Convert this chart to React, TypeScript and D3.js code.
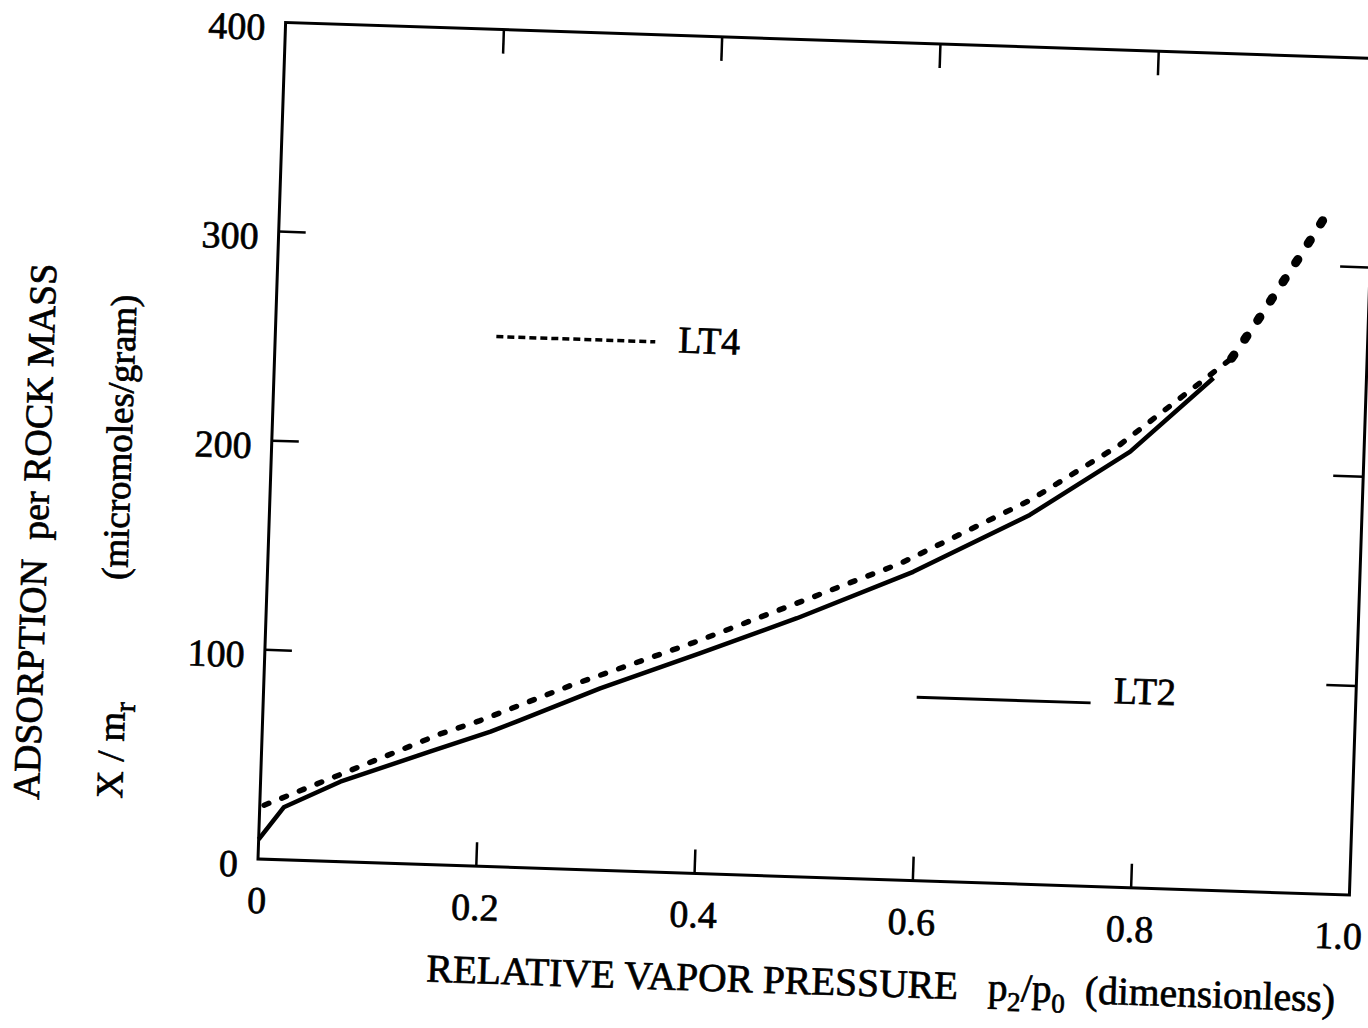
import React from 'react';
import * as d3 from 'd3';

const xTicks = [0, 0.2, 0.4, 0.6, 0.8, 1.0];
const xTickLabels = ['0', '0.2', '0.4', '0.6', '0.8', '1.0'];
const yTicks = [0, 100, 200, 300, 400];
const yTickLabels = ['0', '100', '200', '300', '400'];
const innerXTicks = [0.2, 0.4, 0.6, 0.8];
const innerYTicks = [100, 200, 300];

// LT2 (solid)
const lt2X = [0, 0.022, 0.073, 0.154, 0.209, 0.233, 0.308, 0.398, 0.486, 0.591, 0.696, 0.786, 0.86];
const lt2Y = [9.4, 25.1, 38.2, 54.0, 64.5, 69.8, 86.9, 105.2, 123.5, 147.5, 176.5, 208.3, 244.8];

// LT4 (dashed)
const lt4X = [0.004, 0.0605, 0.163, 0.199, 0.28, 0.392, 0.476, 0.579, 0.696, 0.776, 0.876];
const lt4Y = [25.8, 38.8, 62.6, 69.6, 87.6, 110.2, 128.6, 151.3, 183.6, 211.3, 254.5];
// LT4 upper (dotted) part
const lt4HighX = [0.876, 0.898, 0.918, 0.938, 0.96];
const lt4HighY = [254.5, 272.4, 289.5, 306.5, 326];

const FONT = '"Liberation Serif", "Times New Roman", serif';

export default function App() {
  const W = 1092;
  const H = 837;
  const x = d3.scaleLinear().domain([0, 1]).range([0, W]);
  const y = d3.scaleLinear().domain([0, 400]).range([H, 0]);
  const line = d3
    .line<[number, number]>()
    .x((d) => x(d[0]))
    .y((d) => y(d[1]));

  const lt2 = line(lt2X.map((v, i) => [v, lt2Y[i]]) as [number, number][]) || '';
  const lt4 = line(lt4X.map((v, i) => [v, lt4Y[i]]) as [number, number][]) || '';
  const lt4h = line(lt4HighX.map((v, i) => [v, lt4HighY[i]]) as [number, number][]) || '';

  const tickLen = 24;
  const textStroke = { stroke: '#000', strokeWidth: 0.7 };

  return (
    <svg
      width={1368}
      height={1028}
      style={{ position: 'absolute', left: 0, top: 0, background: '#fff' }}
      fontFamily={FONT}
    >
      <rect width={1368} height={1028} fill="#fff" />
      <g transform="rotate(1.89, 258, 859)">
        <g transform="translate(258, 22)">
          {/* frame */}
          <path
            d={`M0,0 L${W},0 L${W},${H} L0,${H} Z`}
            fill="none"
            stroke="#000"
            strokeWidth={3}
          />
          {/* inner ticks */}
          {innerXTicks.map((t) => (
            <g key={'xt' + t}>
              <line x1={x(t)} x2={x(t)} y1={H} y2={H - tickLen} stroke="#000" strokeWidth={2.5} />
              <line x1={x(t)} x2={x(t)} y1={0} y2={tickLen} stroke="#000" strokeWidth={2.5} />
            </g>
          ))}
          {innerYTicks.map((t) => (
            <g key={'yt' + t}>
              <line x1={0} x2={tickLen + 3} y1={y(t)} y2={y(t)} stroke="#000" strokeWidth={2.5} />
              <line x1={W} x2={W - tickLen - 6} y1={y(t)} y2={y(t)} stroke="#000" strokeWidth={2.5} />
            </g>
          ))}
          {/* tick labels */}
          {xTicks.map((t, i) => (
            <text
              key={'xl' + t}
              x={x(t) - (t === 1 ? 10 : 0)}
              y={H + 54}
              textAnchor="middle"
              fontSize={38}
              {...textStroke}
            >
              {xTickLabels[i]}
            </text>
          ))}
          {yTicks.map((t, i) => (
            <text
              key={'yl' + t}
              x={-20}
              y={y(t) + 18}
              textAnchor="end"
              fontSize={38}
              {...textStroke}
            >
              {yTickLabels[i]}
            </text>
          ))}

          {/* curves */}
          <path d={lt2} fill="none" stroke="#000" strokeWidth={4.5} strokeLinejoin="round" />
          <path
            d={lt4}
            fill="none"
            stroke="#000"
            strokeWidth={5.5}
            strokeDasharray="5 14"
            strokeLinecap="round"
          />
          <path
            d={lt4h}
            fill="none"
            stroke="#000"
            strokeWidth={9}
            strokeDasharray="4 19"
            strokeLinecap="round"
          />

          {/* legend */}
          <line
            x1={221}
            x2={380}
            y1={307}
            y2={307}
            stroke="#000"
            strokeWidth={3.5}
            strokeDasharray="7 4"
          />
          <text x={403} y={317} fontSize={38} {...textStroke}>
            LT4
          </text>
          <line x1={653} x2={827} y1={653.5} y2={653.5} stroke="#000" strokeWidth={3} />
          <text x={850} y={653} fontSize={38} {...textStroke}>
            LT2
          </text>

          {/* x axis title */}
          <text x={172} y={H + 117} fontSize={39.5} style={{ whiteSpace: 'pre' }} {...textStroke}>
            <tspan>RELATIVE VAPOR PRESSURE  </tspan>
            <tspan dx={10}>p</tspan>
            <tspan fontSize={27} dy={10}>2</tspan>
            <tspan dy={-10}>/p</tspan>
            <tspan fontSize={27} dy={10}>0</tspan>
            <tspan dy={-10}>  (dimensionless)</tspan>
          </text>

          {/* y axis titles */}
          <text
            transform={`translate(-221, 517) rotate(-90)`}
            textAnchor="middle"
            fontSize={38}
            style={{ whiteSpace: 'pre' }}
            {...textStroke}
          >
            ADSORPTION  per ROCK MASS
          </text>
          <text
            transform={`translate(-138, 733) rotate(-90)`}
            textAnchor="middle"
            fontSize={38}
            style={{ whiteSpace: 'pre' }}
            {...textStroke}
          >
            <tspan>X / m</tspan>
            <tspan fontSize={30} dy={10}>r</tspan>
          </text>
          <text
            transform={`translate(-140, 420) rotate(-90)`}
            textAnchor="middle"
            fontSize={37}
            {...textStroke}
          >
            (micromoles/gram)
          </text>
        </g>
      </g>
    </svg>
  );
}
